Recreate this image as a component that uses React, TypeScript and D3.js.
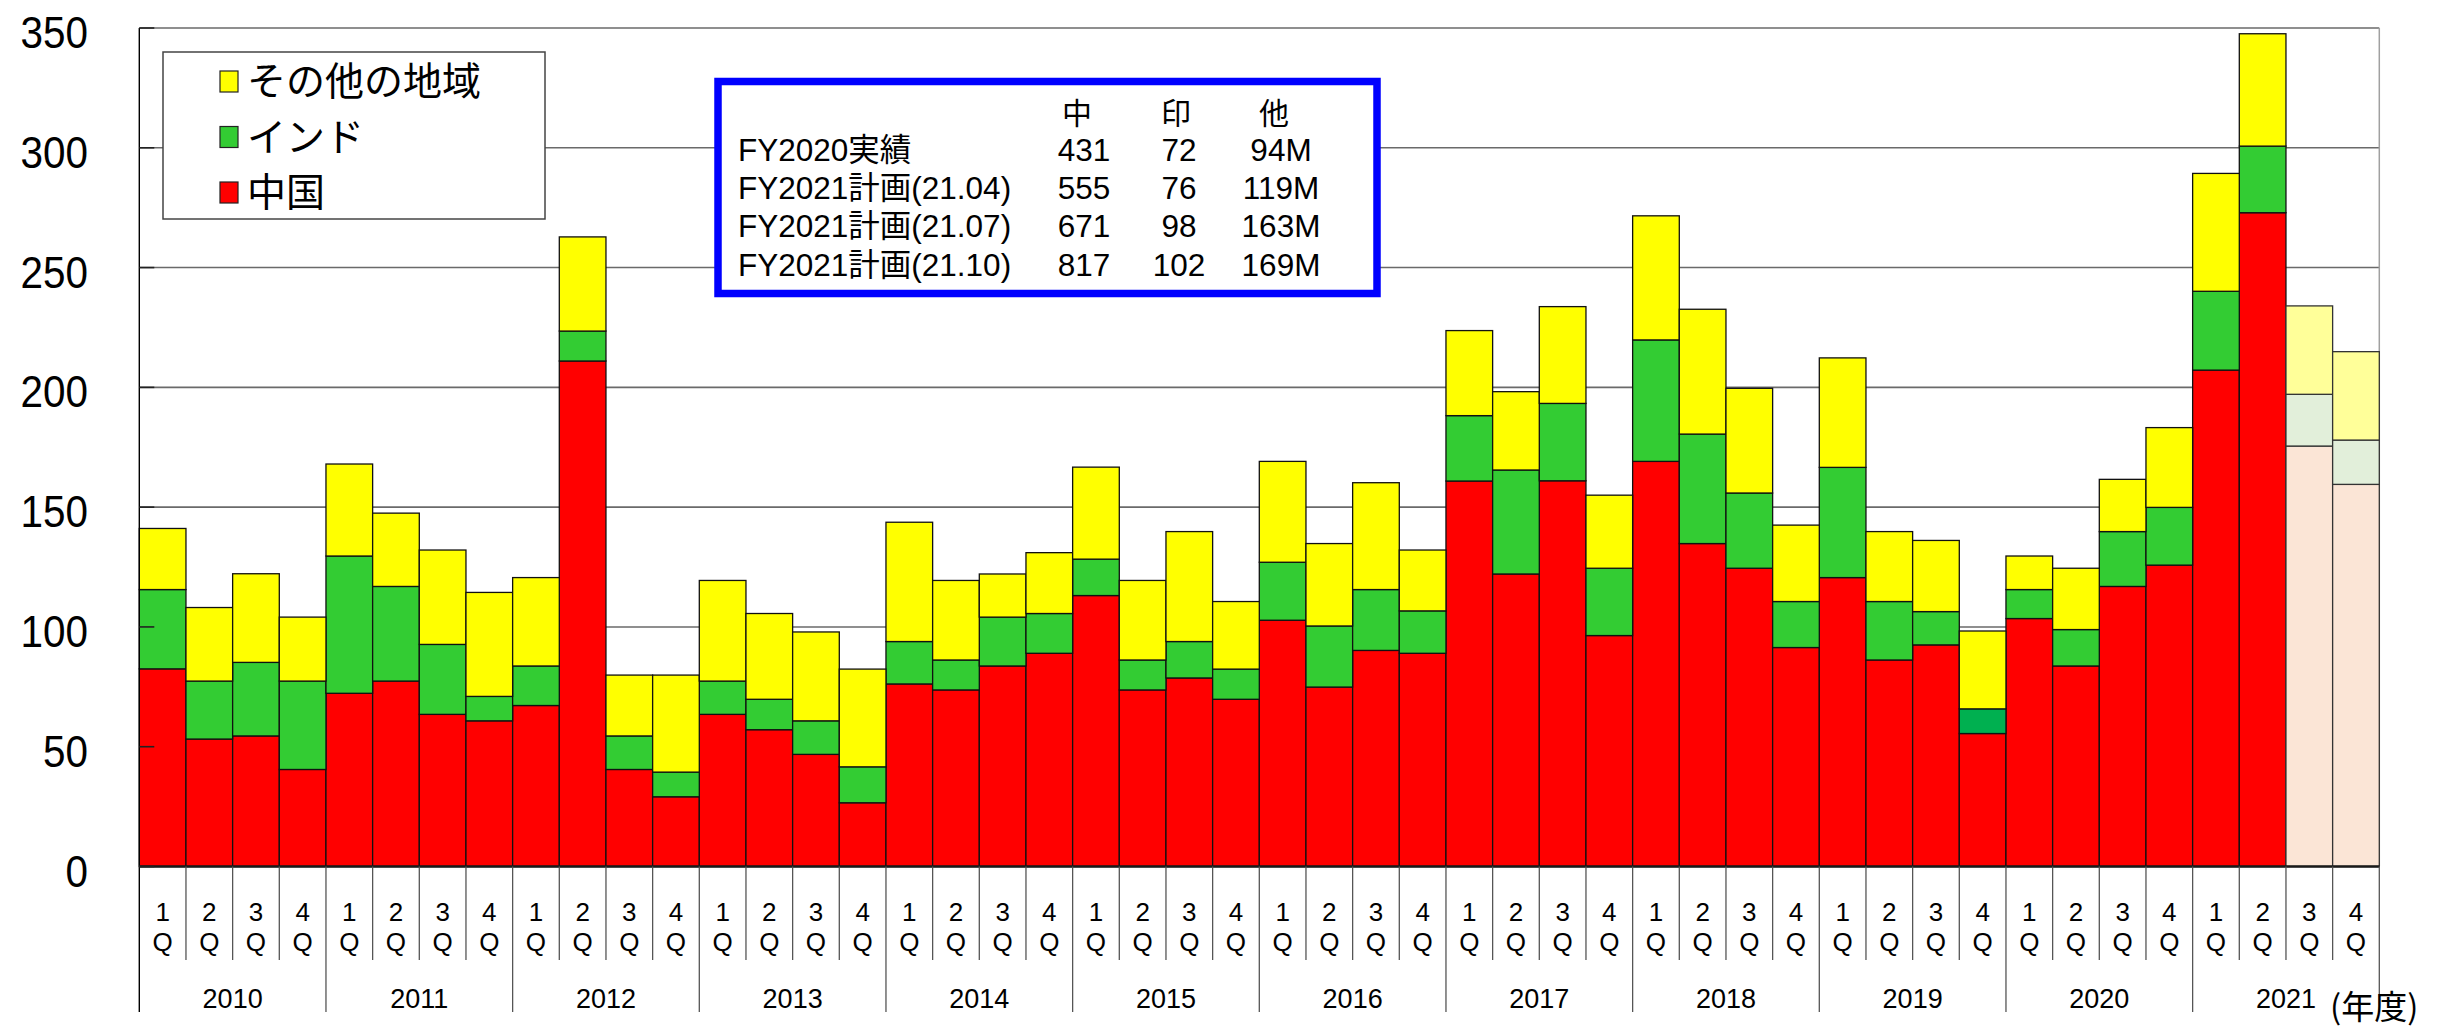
import React from 'react';
import * as d3 from 'd3';

// ---------- data ----------
const years = ['2010', '2011', '2012', '2013', '2014', '2015', '2016', '2017', '2018', '2019', '2020', '2021'];
const quarters = ['1', '2', '3', '4'];

// 中国
const china = [
  82.5, 53.2, 54.5, 40.5,
  72.3, 77.4, 63.5, 60.8,
  67.2, 211.0, 40.5, 29.1,
  63.5, 57.1, 46.8, 26.6,
  76.2, 73.7, 83.7, 89.0,
  113.1, 73.7, 78.7, 69.8,
  102.8, 74.9, 90.2, 89.0,
  160.9, 122.1, 161.0, 96.4,
  169.1, 134.8, 124.5, 91.4,
  120.6, 86.2, 92.5, 55.5,
  103.5, 83.7, 116.9, 125.8,
  207.2, 272.9, 175.5, 159.5,
];
// インド
const india = [
  33.1, 24.2, 30.7, 36.9,
  57.3, 39.5, 29.2, 10.2,
  16.5, 12.5, 14.0, 10.3,
  13.9, 12.7, 14.0, 15.0,
  17.7, 12.5, 20.4, 16.6,
  15.2, 12.5, 15.2, 12.6,
  24.2, 25.5, 25.4, 17.7,
  27.3, 43.4, 32.3, 28.1,
  50.7, 45.7, 31.4, 19.2,
  46.0, 24.4, 13.9, 10.3,
  12.1, 15.2, 22.9, 24.1,
  32.9, 27.8, 21.6, 18.5,
];
// その他の地域
const others = [
  25.5, 30.7, 37.0, 26.7,
  38.4, 30.6, 39.4, 43.4,
  36.9, 39.3, 25.4, 40.5,
  42.0, 35.8, 37.1, 40.8,
  49.8, 33.2, 18.0, 25.4,
  38.4, 33.2, 45.9, 28.2,
  42.1, 34.4, 44.6, 25.4,
  35.5, 32.7, 40.4, 30.5,
  51.8, 52.1, 43.7, 31.9,
  45.7, 29.2, 29.7, 32.5,
  14.0, 25.6, 21.8, 33.3,
  49.2, 46.9, 36.9, 36.9,
];
// plan (forecast) quarters
const planQuarters = ['2021-3', '2021-4'];

const yTicks = [0, 50, 100, 150, 200, 250, 300, 350];

const seriesKeys = ['china', 'india', 'others'];
const legendItems = [
  { key: 'others', label: 'その他の地域' },
  { key: 'india', label: 'インド' },
  { key: 'china', label: '中国' },
];

const tableHeader = ['中', '印', '他'];
const tableRowLabels = ['FY2020実績', 'FY2021計画(21.04)', 'FY2021計画(21.07)', 'FY2021計画(21.10)'];
const tableChina = ['431', '555', '671', '817'];
const tableIndia = ['72', '76', '98', '102'];
const tableOthers = ['94M', '119M', '163M', '169M'];
const unitLabel = '(年度)';

// ---------- styles ----------
const W = 2446;
const H = 1031;
const plotLeft = 139.3;
const plotRight = 2379.3;
const plotTop = 28;
const plotBottom = 866.5;

const colors: Record<string, string> = { china: '#FF0000', india: '#33CC33', others: '#FFFF00' };
const planColors: Record<string, string> = { china: '#FBE5D6', india: '#E2EFDA', others: '#FFFF99' };
const darkIndiaQuarter = '2019-4';
const darkIndiaColor = '#00B050';

const latin = '"Liberation Sans", Arial, "Noto Sans CJK JP", sans-serif';
const cjk = '"Noto Sans CJK JP", "Liberation Sans", sans-serif';

export default function App() {
  const ids: string[] = [];
  years.forEach((y) => quarters.forEach((q) => ids.push(`${y}-${q}`)));
  const rows = ids.map((id, i) => ({ id, china: china[i], india: india[i], others: others[i] }));

  const x = d3.scaleBand<string>().domain(ids).range([plotLeft, plotRight]).padding(0);
  const y = d3.scaleLinear().domain([0, 350]).range([plotBottom, plotTop]);
  const stacked = d3.stack<any>().keys(seriesKeys)(rows);
  const bw = x.bandwidth();

  const yearSpan = (yr: string) => {
    const a = x(`${yr}-1`)!;
    const b = x(`${yr}-4`)! + bw;
    return [a, b];
  };

  return (
    <svg width={W} height={H} style={{ position: 'absolute', left: 0, top: 0, background: '#fff' }}>
      <rect x={0} y={0} width={W} height={H} fill="#fff" />
      {/* gridlines */}
      {yTicks.filter((t) => t > 0).map((t) => (
        <line key={`g${t}`} x1={plotLeft} x2={plotRight} y1={y(t)} y2={y(t)} stroke="#6a6a6a" strokeWidth={1.6} />
      ))}
      {/* right border */}
      <line x1={plotRight} x2={plotRight} y1={plotTop} y2={plotBottom} stroke="#a0a0a0" strokeWidth={1.5} />

      {/* bars */}
      {stacked.map((layer) => (
        <g key={layer.key}>
          {layer.map((d, i) => {
            const id = ids[i];
            const isPlan = planQuarters.includes(id);
            let fill = isPlan ? planColors[layer.key] : colors[layer.key];
            if (layer.key === 'india' && id === darkIndiaQuarter) fill = darkIndiaColor;
            return (
              <rect
                key={id}
                x={x(id)!}
                y={y(d[1])}
                width={bw}
                height={y(d[0]) - y(d[1])}
                fill={fill}
                stroke={isPlan ? '#333' : '#111'}
                strokeWidth={1.3}
              />
            );
          })}
        </g>
      ))}

      {/* axes */}
      <line x1={plotLeft} x2={plotLeft} y1={plotTop} y2={1012} stroke="#000" strokeWidth={1.4} />
      <line x1={plotLeft} x2={plotRight} y1={plotBottom} y2={plotBottom} stroke="#1a1a1a" strokeWidth={2.6} />
      {yTicks.map((t) => (
        <line key={`t${t}`} x1={plotLeft} x2={plotLeft + 15} y1={y(t)} y2={y(t)} stroke="#222" strokeWidth={1.6} />
      ))}
      {yTicks.map((t) => (
        <text
          key={`yl${t}`}
          transform={`translate(88,${y(t) + 20}) scale(0.92,1)`}
          textAnchor="end"
          fontFamily={latin}
          fontSize={44}
          fill="#000"
        >
          {t}
        </text>
      ))}

      {/* quarter separators and labels */}
      {ids.map((id, i) => {
        const q = id.split('-')[1];
        const x0 = x(id)!;
        const isYearStart = q === '1';
        return (
          <g key={`q${id}`}>
            {i > 0 && (
              <line
                x1={x0}
                x2={x0}
                y1={plotBottom}
                y2={isYearStart ? 1012 : 960}
                stroke="#555"
                strokeWidth={1.3}
              />
            )}
            <text x={x0 + bw / 2} y={921} textAnchor="middle" fontFamily={latin} fontSize={26} fill="#000">
              {q}
            </text>
            <text x={x0 + bw / 2} y={951} textAnchor="middle" fontFamily={latin} fontSize={26} fill="#000">
              Q
            </text>
          </g>
        );
      })}
      <line x1={plotRight} x2={plotRight} y1={plotBottom} y2={1012} stroke="#555" strokeWidth={1.3} />
      {years.map((yr) => {
        const [a, b] = yearSpan(yr);
        return (
          <text key={`y${yr}`} x={(a + b) / 2} y={1008} textAnchor="middle" fontFamily={latin} fontSize={27} fill="#000">
            {yr}
          </text>
        );
      })}
      <text x={2330} y={1019} fontFamily={cjk} fontSize={33} fill="#000">
        {unitLabel}
      </text>

      {/* legend */}
      <rect x={163} y={52} width={382} height={167} fill="#fff" stroke="#444" strokeWidth={1.5} />
      {legendItems.map((it, i) => {
        const cy = 81 + i * 55.5;
        return (
          <g key={it.key}>
            <rect x={220} y={cy - 10} width={18} height={21} fill={colors[it.key]} stroke="#222" strokeWidth={1.2} />
            <text x={247} y={cy + 14} fontFamily={cjk} fontSize={39} fill="#000">
              {it.label}
            </text>
          </g>
        );
      })}

      {/* blue summary box */}
      <rect x={718} y={81.5} width={659} height={212} fill="#fff" stroke="#0000FF" strokeWidth={7.5} />
      {tableHeader.map((h, j) => (
        <text key={`h${h}`} x={[1077, 1176, 1274][j]} y={124} textAnchor="middle" fontFamily={cjk} fontSize={30} fill="#000">
          {h}
        </text>
      ))}
      {tableRowLabels.map((lab, i) => {
        const by = 161 + i * 38.2;
        return (
          <g key={`r${i}`}>
            <text x={738} y={by} fontFamily={latin} fontSize={31.5} fill="#000">
              {lab}
            </text>
            <text x={1084} y={by} textAnchor="middle" fontFamily={latin} fontSize={31.5} fill="#000">
              {tableChina[i]}
            </text>
            <text x={1179} y={by} textAnchor="middle" fontFamily={latin} fontSize={31.5} fill="#000">
              {tableIndia[i]}
            </text>
            <text x={1281} y={by} textAnchor="middle" fontFamily={latin} fontSize={31.5} fill="#000">
              {tableOthers[i]}
            </text>
          </g>
        );
      })}
    </svg>
  );
}
